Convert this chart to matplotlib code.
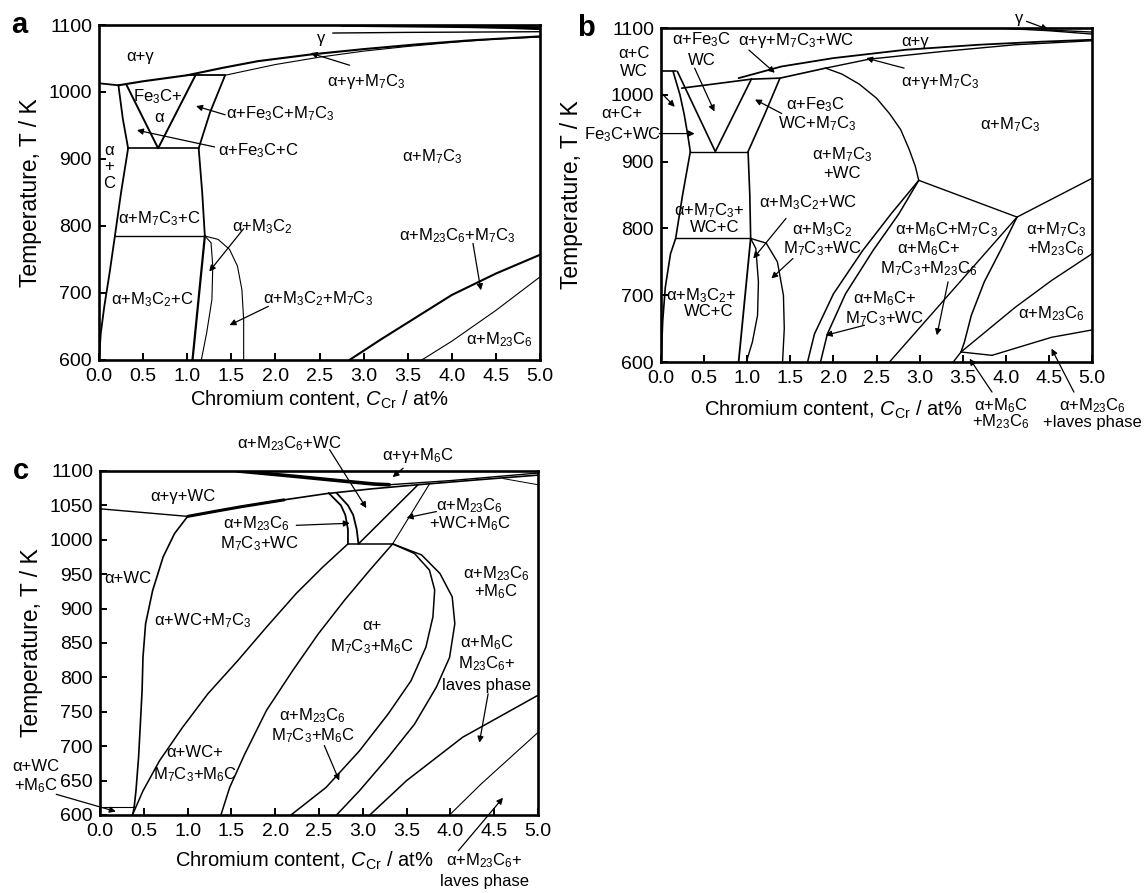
import re

import matplotlib
matplotlib.use("Agg")
import matplotlib.pyplot as plt

plt.rcParams["font.family"] = ["Liberation Sans", "DejaVu Sans"]
plt.rcParams["mathtext.fontset"] = "custom"
plt.rcParams["mathtext.rm"] = "Liberation Sans"
plt.rcParams["mathtext.it"] = "Liberation Sans:italic"

# ---------------- panel a : Fe-C-Cr ----------------
A_LEFT_H_X = [0.0, 0.22]
A_LEFT_H_T = [1013, 1010]
A_AG_UP_X = [0.22, 0.5, 1.0, 1.4, 1.8, 2.4, 3.0, 3.6, 4.2, 5.0]
A_AG_UP_T = [1010, 1016, 1025, 1036, 1046, 1056, 1064, 1071, 1077, 1083]
A_AG_LOW_X = [1.43, 2.0, 2.5, 3.0, 3.5, 4.0, 4.5, 5.0]
A_AG_LOW_T = [1025, 1041, 1052, 1061, 1068, 1074, 1079, 1082]
A_TOP_H_X = [1.0, 1.43]
A_TOP_H_T = [1025, 1025]
A_TRI_X = [0.31, 0.67, 1.09]
A_TRI_T = [1011, 916, 1024]
A_TRAP_L_X = [0.22, 0.27, 0.33]
A_TRAP_L_T = [1010, 960, 916]
A_TRAP_R_X = [1.43, 1.26, 1.13]
A_TRAP_R_T = [1025, 970, 916]
A_H916_X = [0.33, 1.13]
A_H916_T = [916, 916]
A_MID_L_X = [0.33, 0.25, 0.18]
A_MID_L_T = [916, 850, 785]
A_MID_R_X = [1.13, 1.17, 1.2]
A_MID_R_T = [916, 850, 785]
A_H785_X = [0.18, 1.2]
A_H785_T = [785, 785]
A_LOW_L_X = [0.18, 0.12, 0.06, 0.02, 0.0]
A_LOW_L_T = [785, 730, 680, 640, 600]
A_LOW_R_X = [1.2, 1.06]
A_LOW_R_T = [785, 600]
A_M3C2_IN_X = [1.2, 1.27, 1.29, 1.28, 1.22, 1.16]
A_M3C2_IN_T = [785, 775, 740, 690, 640, 600]
A_M3C2_OUT_X = [1.2, 1.35, 1.48, 1.57, 1.62, 1.64, 1.64]
A_M3C2_OUT_T = [785, 780, 765, 740, 705, 660, 600]
A_M23_HI_X = [2.84, 3.2, 3.6, 4.0, 4.5, 5.0]
A_M23_HI_T = [600, 631, 664, 697, 729, 757]
A_M23_LO_X = [3.66, 4.0, 4.5, 5.0]
A_M23_LO_T = [600, 628, 674, 724]
A_GAM_HI_X = [2.75, 3.5, 4.2, 4.7, 5.0]
A_GAM_HI_T = [1100, 1099, 1098, 1096.5, 1095]
A_GAM_LO_X = [2.65, 3.5, 4.3, 5.0]
A_GAM_LO_T = [1088, 1089, 1089.5, 1090]

A_LABELS = ["α+γ", "γ", "α+γ+M7C3", "Fe3C+", "α", "α+Fe3C+M7C3", "α+Fe3C+C",
            "α+M7C3", "α", "+", "C", "α+M7C3+C", "α+M3C2", "α+M23C6+M7C3",
            "α+M3C2+C", "α+M3C2+M7C3", "α+M23C6"]
A_LABEL_X = [0.47, 2.52, 3.03, 0.67, 0.68, 2.06, 1.81, 3.78, 0.11, 0.11, 0.11,
             0.68, 1.85, 4.06, 0.60, 2.48, 4.54]
A_LABEL_T = [1053, 1080, 1015, 993, 962, 968, 913, 903, 913, 889, 864, 811,
             799, 786, 690, 692, 630]
A_ARROW_FROM = [(2.84, 1040), (1.43, 966), (1.31, 918), (1.64, 796), (1.92, 680), (4.24, 774)]
A_ARROW_TO = [(2.40, 1058), (1.10, 979), (0.43, 943), (1.25, 732), (1.48, 652), (4.33, 704)]

# ---------------- panel b : Fe-C-Cr-W ----------------
B_TOP_H_X = [0.0, 0.17]
B_TOP_H_T = [1035, 1035]
B_L1_X = [0.14, 0.22, 0.27, 0.31, 0.34]
B_L1_T = [1035, 1000, 970, 940, 915]
B_TRI_X = [0.19, 0.63, 1.05]
B_TRI_T = [1035, 915, 1024]
B_AG_LOWER_X = [0.24, 1.05, 1.38, 1.91]
B_AG_LOWER_T = [1010, 1023.5, 1025, 1040]
B_AG_UP_X = [0.9, 1.4, 2.0, 2.84, 3.69, 4.4, 5.0]
B_AG_UP_T = [1025, 1042.5, 1055, 1067.5, 1075, 1079.5, 1082.5]
B_AGM_X = [1.91, 2.42, 3.27, 4.11, 5.0]
B_AGM_T = [1040, 1053.5, 1065, 1075, 1081]
B_GAM1_X = [3.9, 4.5, 5.0]
B_GAM1_T = [1100, 1096, 1091]
B_GAM2_X = [4.5, 5.0]
B_GAM2_T = [1097, 1094]
B_TRAP_R_X = [1.38, 1.20, 1.01]
B_TRAP_R_T = [1025, 970, 915]
B_H915_X = [0.34, 1.01]
B_H915_T = [915, 915]
B_MID_L_X = [0.34, 0.25, 0.17]
B_MID_L_T = [915, 850, 785]
B_MID_R_X = [1.01, 1.03, 1.04]
B_MID_R_T = [915, 850, 785]
B_H785_X = [0.17, 1.04]
B_H785_T = [785, 785]
B_LOW_L_X = [0.17, 0.11, 0.05, 0.02, 0.0]
B_LOW_L_T = [785, 762, 712, 662, 600]
B_LOW_R_X = [1.04, 0.90]
B_LOW_R_T = [785, 600]
B_M3C2_IN_X = [1.04, 1.10, 1.13, 1.12, 1.06, 0.99]
B_M3C2_IN_T = [785, 770, 720, 670, 630, 600]
B_M3C2_OUT_X = [1.04, 1.22, 1.35, 1.42, 1.43, 1.41]
B_M3C2_OUT_T = [785, 778, 750, 700, 650, 600]
B_BIG_X = [1.91, 2.10, 2.30, 2.50, 2.65, 2.78, 2.88, 2.95, 2.99]
B_BIG_T = [1040, 1031, 1016, 995, 972, 948, 918, 893, 872]
B_TP_X = [2.99, 4.13]
B_TP_T = [872, 817]
B_RUP_X = [4.13, 5.0]
B_RUP_T = [817, 875]
B_PAIR1_X = [2.99, 2.67, 2.34, 2.00, 1.78, 1.70]
B_PAIR1_T = [872, 822, 767, 702, 642, 600]
B_PAIR2_X = [2.99, 2.76, 2.46, 2.14, 1.93, 1.85]
B_PAIR2_T = [872, 822, 767, 702, 642, 600]
B_DIAG_X = [2.65, 4.13]
B_DIAG_T = [600, 817]
B_M6C_X = [4.13, 3.95, 3.75, 3.60, 3.52, 3.48]
B_M6C_T = [817, 770, 720, 670, 630, 615]
B_FOOT_X = [3.48, 3.39]
B_FOOT_T = [615, 600]
B_M23_X = [3.48, 4.11, 4.53, 5.0]
B_M23_T = [615, 682, 722, 762]
B_SMALL_X = [3.48, 3.84]
B_SMALL_T = [615, 610]
B_LAVES_X = [3.84, 4.53, 5.0]
B_LAVES_T = [610, 637, 648]

B_LABELS = ["α+C", "WC", "α+C+", "Fe3C+WC", "α+Fe3C", "WC", "α+γ+M7C3+WC", "α+γ",
            "α+γ+M7C3", "α+Fe3C", "WC+M7C3", "α+M7C3", "α+M7C3", "+WC", "α+M7C3+",
            "WC+C", "α+M3C2+WC", "α+M3C2", "M7C3+WC", "α+M6C+M7C3", "α+M6C+",
            "M7C3+M23C6", "α+M7C3", "+M23C6", "α+M6C+", "M7C3+WC", "α+M23C6",
            "α+M3C2+", "WC+C", "α+M6C", "+M23C6", "α+M23C6", "+laves phase", "γ"]
B_LABEL_X = [-0.31, -0.31, -0.46, -0.45, 0.47, 0.47, 1.57, 2.95, 3.24, 1.79, 1.81,
             4.05, 2.10, 2.10, 0.56, 0.62, 1.70, 1.87, 1.87, 3.31, 3.10, 3.10, 4.58,
             4.58, 2.59, 2.59, 4.53, 0.47, 0.55, 3.94, 3.94, 5.00, 5.00, 4.15]
B_LABEL_T = [1062, 1035, 972, 940, 1082, 1052, 1082, 1080, 1020, 985, 957, 955,
             910, 882, 827, 802, 838, 798, 770, 798, 770, 740, 798, 770, 695, 665,
             672, 700, 675, 535, 510, 535, 510, 1115]
B_ARROW_FROM = [(0.01, 1002), (-0.02, 942), (0.39, 1040), (1.02, 1067), (2.82, 1040),
                (1.40, 972), (1.45, 815), (1.53, 755), (3.33, 720), (2.36, 655),
                (3.84, 555), (4.79, 555), (4.24, 1110)]
B_ARROW_TO = [(0.16, 982), (0.39, 942), (0.62, 975), (1.32, 1033), (2.38, 1055),
              (1.09, 993), (1.07, 755), (1.28, 725), (3.20, 640), (1.91, 640),
              (3.58, 605), (4.53, 620), (4.49, 1098)]

# ---------------- panel c : Fe-C-Cr-W-Mo ----------------
C_TOP_X = [1.57, 2.24, 2.80, 3.13, 3.30]
C_TOP_T = [1100, 1092, 1085, 1081, 1080]
C_GR_X = [3.30, 4.0, 5.0]
C_GR_T = [1080, 1086, 1097]
C_AGWC_X = [1.0, 1.3, 1.61, 2.1, 2.58, 3.1, 3.63, 4.3, 5.0]
C_AGWC_T = [1034, 1041, 1048, 1058, 1067, 1074, 1080, 1087, 1094]
C_GM6C_X = [4.6, 5.0]
C_GM6C_T = [1089, 1080]
C_LEFT_H_X = [0.0, 1.0]
C_LEFT_H_T = [1045, 1034]
C_AWC_X = [1.0, 0.85, 0.72, 0.60, 0.52, 0.49, 0.48, 0.46, 0.44, 0.41, 0.39]
C_AWC_T = [1034, 1009, 975, 926, 878, 829, 781, 732, 684, 635, 612]
C_BL_H_X = [0.0, 0.39]
C_BL_H_T = [612, 612]
C_BL_V_X = [0.39, 0.37]
C_BL_V_T = [612, 600]
C_C2_X = [2.83, 2.54, 2.24, 1.90, 1.57, 1.23, 0.94, 0.68, 0.49, 0.37]
C_C2_T = [994, 960, 922, 873, 824, 776, 727, 679, 635, 600]
C_C3_X = [3.34, 3.08, 2.79, 2.49, 2.20, 1.90, 1.65, 1.48, 1.38]
C_C3_T = [994, 956, 912, 863, 810, 752, 688, 640, 600]
C_ARC_IN_X = [3.34, 3.59, 3.76, 3.82, 3.80, 3.72, 3.55, 3.29, 2.96, 2.58, 2.18]
C_ARC_IN_T = [994, 980, 956, 927, 888, 844, 795, 747, 693, 640, 600]
C_ARC_OUT_X = [3.34, 3.67, 3.88, 4.02, 4.05, 3.99, 3.84, 3.59, 3.29, 2.96, 2.70]
C_ARC_OUT_T = [994, 978, 951, 917, 878, 829, 786, 732, 684, 635, 600]
C_LAV1_X = [3.08, 3.50, 4.14, 5.0]
C_LAV1_T = [600, 650, 713, 774]
C_LAV2_X = [3.99, 4.35, 5.0]
C_LAV2_T = [600, 645, 720]
C_BAND_L_X = [2.61, 2.75, 2.80, 2.83, 2.83]
C_BAND_L_T = [1068, 1050, 1036, 1015, 994]
C_BAND_R_X = [2.70, 2.83, 2.89, 2.93, 2.95]
C_BAND_R_T = [1068, 1050, 1036, 1015, 994]
C_H994_X = [2.83, 3.34]
C_H994_T = [994, 994]
C_WC_R_X = [2.95, 3.63]
C_WC_R_T = [994, 1080]
C_M6C_R_X = [3.34, 3.76]
C_M6C_R_T = [994, 1081]

C_LABELS = ["α+M23C6+WC", "α+γ+M6C", "α+γ+WC", "α+M23C6", "M7C3+WC", "α+M23C6",
            "+WC+M6C", "α+WC", "α+M23C6", "+M6C", "α+WC+M7C3", "α+", "M7C3+M6C",
            "α+M6C", "M23C6+", "laves phase", "α+M23C6", "M7C3+M6C", "α+WC+",
            "M7C3+M6C", "α+WC", "+M6C", "α+M23C6+", "laves phase"]
C_LABEL_X = [2.16, 3.63, 0.94, 1.78, 1.82, 4.22, 4.22, 0.32, 4.52, 4.52, 1.17,
             3.10, 3.10, 4.41, 4.41, 4.41, 2.43, 2.43, 1.08, 1.08, -0.73, -0.73,
             4.39, 4.39]
C_LABEL_T = [1140, 1123, 1063, 1024, 994, 1050, 1024, 943, 951, 924, 883, 875,
             844, 851, 820, 788, 744, 715, 691, 659, 671, 642, 533, 503]
C_ARROW_FROM = [(2.62, 1131), (3.46, 1104), (2.24, 1021), (3.84, 1041), (2.56, 701),
                (-0.50, 630), (4.43, 776), (4.09, 548)]
C_ARROW_TO = [(3.04, 1046), (3.34, 1091), (2.85, 1024), (3.50, 1032), (2.73, 650),
              (0.18, 605), (4.33, 705), (4.60, 625)]

A_LINES = [
    (A_LEFT_H_X, A_LEFT_H_T, 1.3), (A_AG_UP_X, A_AG_UP_T, 1.5),
    (A_AG_LOW_X, A_AG_LOW_T, 0.8), (A_TOP_H_X, A_TOP_H_T, 1.3),
    (A_TRI_X, A_TRI_T, 1.4), (A_TRAP_L_X, A_TRAP_L_T, 1.3),
    (A_TRAP_R_X, A_TRAP_R_T, 1.3), (A_H916_X, A_H916_T, 1.2),
    (A_MID_L_X, A_MID_L_T, 1.3), (A_MID_R_X, A_MID_R_T, 1.3),
    (A_H785_X, A_H785_T, 1.0), (A_LOW_L_X, A_LOW_L_T, 1.3),
    (A_LOW_R_X, A_LOW_R_T, 1.6), (A_M3C2_IN_X, A_M3C2_IN_T, 0.8),
    (A_M3C2_OUT_X, A_M3C2_OUT_T, 0.8), (A_M23_HI_X, A_M23_HI_T, 1.5),
    (A_M23_LO_X, A_M23_LO_T, 0.8), (A_GAM_HI_X, A_GAM_HI_T, 2.6),
    (A_GAM_LO_X, A_GAM_LO_T, 1.0),
]
B_LINES = [
    (B_TOP_H_X, B_TOP_H_T, 1.2), (B_L1_X, B_L1_T, 1.2), (B_TRI_X, B_TRI_T, 1.2),
    (B_AG_LOWER_X, B_AG_LOWER_T, 1.2), (B_AG_UP_X, B_AG_UP_T, 1.3),
    (B_AGM_X, B_AGM_T, 1.0), (B_GAM1_X, B_GAM1_T, 1.0), (B_GAM2_X, B_GAM2_T, 1.0),
    (B_TRAP_R_X, B_TRAP_R_T, 1.2), (B_H915_X, B_H915_T, 1.0),
    (B_MID_L_X, B_MID_L_T, 1.2), (B_MID_R_X, B_MID_R_T, 1.2),
    (B_H785_X, B_H785_T, 1.0), (B_LOW_L_X, B_LOW_L_T, 1.2),
    (B_LOW_R_X, B_LOW_R_T, 1.3), (B_M3C2_IN_X, B_M3C2_IN_T, 1.0),
    (B_M3C2_OUT_X, B_M3C2_OUT_T, 1.0), (B_BIG_X, B_BIG_T, 1.0),
    (B_TP_X, B_TP_T, 1.0), (B_RUP_X, B_RUP_T, 1.0), (B_PAIR1_X, B_PAIR1_T, 1.1),
    (B_PAIR2_X, B_PAIR2_T, 1.1), (B_DIAG_X, B_DIAG_T, 1.0), (B_M6C_X, B_M6C_T, 1.1),
    (B_FOOT_X, B_FOOT_T, 1.0), (B_M23_X, B_M23_T, 1.0), (B_SMALL_X, B_SMALL_T, 1.0),
    (B_LAVES_X, B_LAVES_T, 1.0),
]
C_LINES = [
    (C_TOP_X, C_TOP_T, 2.6), (C_GR_X, C_GR_T, 1.0), (C_AGWC_X, C_AGWC_T, 1.2),
    (C_AGWC_X[:4], C_AGWC_T[:4], 2.2), (C_GM6C_X, C_GM6C_T, 0.7),
    (C_LEFT_H_X, C_LEFT_H_T, 1.0), (C_AWC_X, C_AWC_T, 1.2),
    (C_BL_H_X, C_BL_H_T, 0.8), (C_BL_V_X, C_BL_V_T, 1.0), (C_C2_X, C_C2_T, 1.1),
    (C_C3_X, C_C3_T, 1.1), (C_ARC_IN_X, C_ARC_IN_T, 1.1),
    (C_ARC_OUT_X, C_ARC_OUT_T, 1.1), (C_LAV1_X, C_LAV1_T, 1.1),
    (C_LAV2_X, C_LAV2_T, 0.8), (C_BAND_L_X, C_BAND_L_T, 1.3),
    (C_BAND_R_X, C_BAND_R_T, 1.3), (C_H994_X, C_H994_T, 1.1),
    (C_WC_R_X, C_WC_R_T, 1.1), (C_M6C_R_X, C_M6C_R_T, 0.8),
]


def chem(s):
    # digits after an element / M become subscripts
    return re.sub(r"([A-Za-z])(\d+)", r"\1$_{\2}$", s)


def setup(rect, yticks, letter, letter_x, xlab_pos, ylab_x):
    ax = fig.add_axes(rect)
    ax.set_xlim(0, 5)
    ax.set_ylim(600, 1100)
    ax.set_xticks([i * 0.5 for i in range(11)])
    ax.set_xticklabels([f"{i * 0.5:.1f}" for i in range(11)])
    ax.set_yticks(yticks)
    ax.tick_params(direction="in", length=5, width=1.4, labelsize=14)
    ax.tick_params(axis="x", pad=6)
    ax.tick_params(axis="y", pad=5)
    for s in ax.spines.values():
        s.set_linewidth(1.9)
    ax.set_xlabel(r"Chromium content, $C_{\mathrm{Cr}}$ / at%", fontsize=14.5)
    ax.xaxis.set_label_coords(*xlab_pos)
    ax.set_ylabel("Temperature, T / K", fontsize=16.5)
    ax.yaxis.set_label_coords(ylab_x, 0.5)
    ax.text(letter_x, 1.0, letter, transform=ax.transAxes, fontsize=21,
            fontweight="bold", ha="center", va="center")
    return ax


def draw(ax, lines, labels, lx, lt, arr_from, arr_to):
    for xs, ts, lw in lines:
        ax.plot(xs, ts, color="black", lw=lw, solid_capstyle="round")
    for s, x, t in zip(labels, lx, lt):
        ax.text(x, t, chem(s), fontsize=12, ha="center", va="center")
    for a, b in zip(arr_from, arr_to):
        ax.annotate("", xy=b, xytext=a, annotation_clip=False,
                    arrowprops=dict(arrowstyle="-|>", lw=0.9, color="black",
                                    mutation_scale=9, shrinkA=0, shrinkB=0))


fig = plt.figure(figsize=(11.46, 8.93), dpi=100)

ax_a = setup([0.0864, 0.5969, 0.3848, 0.3751], range(600, 1101, 100), "a",
             -0.18, (0.5, -0.085), -0.13)
draw(ax_a, A_LINES, A_LABELS, A_LABEL_X, A_LABEL_T, A_ARROW_FROM, A_ARROW_TO)

ax_b = setup([0.5768, 0.5946, 0.3761, 0.3740], range(600, 1101, 100), "b",
             -0.175, (0.40, -0.11), -0.182)
draw(ax_b, B_LINES, B_LABELS, B_LABEL_X, B_LABEL_T, B_ARROW_FROM, B_ARROW_TO)

ax_c = setup([0.0873, 0.0874, 0.3822, 0.3852], range(600, 1101, 50), "c",
             -0.18, (0.466, -0.1), -0.13)
draw(ax_c, C_LINES, C_LABELS, C_LABEL_X, C_LABEL_T, C_ARROW_FROM, C_ARROW_TO)

fig.savefig("out.png", dpi=100)
